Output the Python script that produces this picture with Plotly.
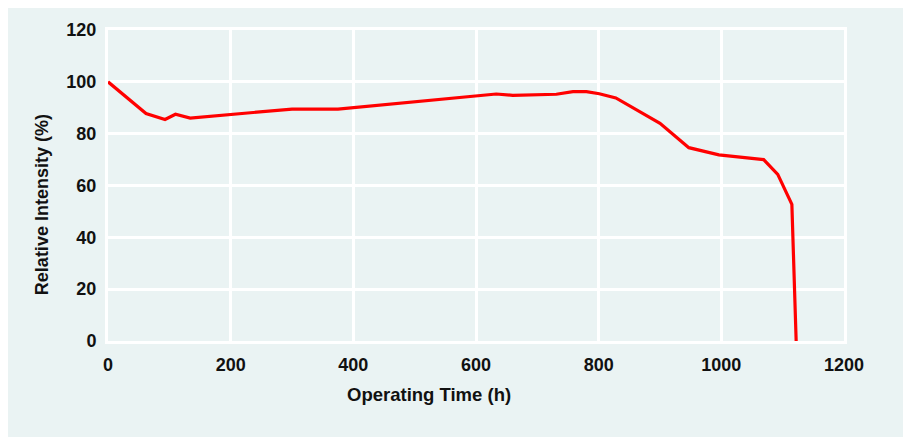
import plotly.graph_objects as go

hours = [0, 62, 93, 110, 134, 250, 300, 375, 633, 660, 731, 758, 780, 801, 828,
         900, 947, 996, 1069, 1092, 1115, 1122]
intensity = [100, 87.8, 85.5, 87.5, 86, 88.3, 89.5, 89.5, 95.3, 94.8, 95.2, 96.2,
             96.2, 95.4, 93.8, 84, 74.6, 71.8, 70, 64.3, 52.7, 0]
x_ticks = [0, 200, 400, 600, 800, 1000, 1200]
y_ticks = [0, 20, 40, 60, 80, 100, 120]

BG = "#eaf3f3"
FONT = "Liberation Sans"
INK = "#111111"

fig = go.Figure()
fig.add_trace(go.Scatter(x=hours, y=intensity, mode="lines",
                         line=dict(color="#ff0000", width=3.2), cliponaxis=False,
                         showlegend=False))

axis_common = dict(showgrid=True, gridcolor="white", gridwidth=3,
                   showline=True, linecolor="white", linewidth=3, mirror=True,
                   zeroline=False, ticks="outside", tickcolor="rgba(0,0,0,0)",
                   tickfont=dict(family=FONT, size=18, color=INK, weight="bold"))

fig.update_xaxes(range=[0, 1200], tickvals=x_ticks, ticklen=5, **axis_common)
fig.update_yaxes(range=[0, 120], tickvals=y_ticks, ticklen=5, **axis_common)

fig.add_annotation(text="Operating Time (h)", xref="paper", yref="paper",
                   x=0.436, y=-0.173, xanchor="center", yanchor="middle",
                   showarrow=False,
                   font=dict(family=FONT, size=18.5, color=INK, weight="bold"))
fig.add_annotation(text="Relative Intensity (%)", xref="paper", yref="paper",
                   x=-0.0897, y=0.44, xanchor="center", yanchor="middle",
                   textangle=-90, showarrow=False,
                   font=dict(family=FONT, size=18, color=INK, weight="bold"))

fig.update_layout(width=903, height=429,
                  margin=dict(l=100, r=67, t=15, b=96),
                  paper_bgcolor=BG, plot_bgcolor=BG,
                  font=dict(family=FONT))

fig.write_html("out.html")
